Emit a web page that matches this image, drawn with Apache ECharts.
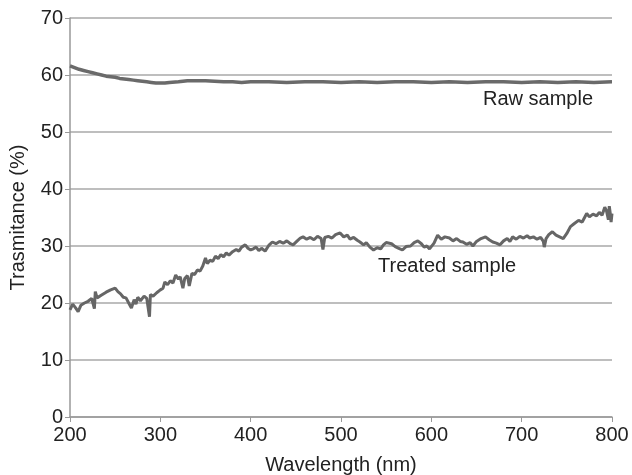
<!DOCTYPE html>
<html>
<head>
<meta charset="utf-8">
<script src="https://cdn.jsdelivr.net/npm/echarts@6/dist/echarts.min.js"></script>
<style>
  html, body { margin: 0; padding: 0; background: #fff; }
  #chart { width: 632px; height: 475px; }
</style>
</head>
<body>
<div id="chart"></div>
<script>
// raw sample: wavelength (nm) / transmittance (%)
var rawWl = [200,205,210,215,220,225,230,235,240,245,250,255,260,265,270,275,280,285,290,295,300,305,310,320,330,340,350,360,370,380,390,400,420,440,460,480,500,520,540,560,580,600,620,640,660,680,700,720,740,760,780,800];
var rawT  = [61.6,61.3,61.0,60.8,60.6,60.4,60.2,60.0,59.8,59.7,59.6,59.4,59.3,59.2,59.1,59.0,58.9,58.8,58.7,58.6,58.6,58.6,58.7,58.8,59.0,59.0,59.0,58.9,58.8,58.8,58.7,58.8,58.8,58.7,58.8,58.8,58.7,58.8,58.7,58.8,58.8,58.7,58.8,58.7,58.8,58.8,58.7,58.8,58.7,58.8,58.7,58.8];

// treated sample
var trWl = [200,203,206,209,212,216,220,224,227,228,230,235,240,245,250,253,256,259,262,265,268,271,273,275,278,282,285,288,289,292,296,300,303,305,308,311,314,317,320,322,325,327,330,332,335,338,341,344,347,350,352,355,358,361,364,367,370,373,376,380,384,387,390,394,397,400,403,406,409,412,416,420,424,428,432,436,440,444,447,451,455,458,462,466,470,474,478,480,482,486,490,494,499,503,507,510,514,518,521,525,528,532,536,540,544,547,550,552,556,560,564,568,572,577,581,585,589,592,595,598,600,603,607,611,615,620,624,628,632,635,639,643,646,650,655,660,664,668,672,676,680,684,687,690,694,698,702,706,709,713,717,721,724,725,727,730,734,738,742,746,750,754,758,763,767,772,775,779,783,786,789,792,794,796,797,798,799,800];
var trT  = [18.8,19.8,19.2,18.5,19.6,20.0,20.3,20.8,19.0,22.0,20.9,21.4,21.9,22.3,22.6,22.0,21.6,21.0,20.9,20.0,19.1,20.6,19.8,21.0,20.4,21.2,20.8,17.6,21.5,21.2,21.8,22.3,22.6,23.7,23.2,23.9,23.5,24.9,24.2,24.6,22.6,24.3,24.8,23.0,25.2,25.0,25.8,25.6,26.5,27.9,26.9,27.5,27.3,28.2,27.8,28.5,28.1,28.8,28.4,29.0,29.4,29.1,29.8,30.2,29.6,29.3,29.5,29.8,29.2,29.6,29.1,30.1,30.7,30.4,30.8,30.5,30.9,30.4,30.2,30.8,31.4,31.6,31.2,31.5,31.1,31.7,31.3,29.4,31.5,31.7,31.4,32.0,32.3,31.6,31.9,31.2,31.5,31.0,30.7,30.2,30.6,29.8,29.3,29.7,29.5,30.2,30.6,30.9,30.4,29.9,29.6,29.3,29.9,30.0,30.6,30.9,30.4,29.8,30.0,29.5,29.3,30.5,31.9,31.2,31.6,31.4,30.9,31.3,30.8,30.7,30.3,30.6,30.0,30.8,31.3,31.6,31.1,30.7,30.5,30.2,30.9,31.3,30.8,31.6,31.2,31.7,31.4,31.8,31.4,31.6,31.2,31.5,30.8,29.8,31.3,32.0,32.5,31.9,31.6,31.3,32.2,33.4,33.9,34.5,34.2,35.7,35.1,35.6,35.3,35.9,35.4,36.8,36.1,34.6,37.0,35.8,34.2,35.7];

var xTicks = [200,300,400,500,600,700,800];
var yTicks = [0,10,20,30,40,50,60,70];

function pairs(xs, ys){
  var out = [];
  for (var i = 0; i < xs.length; i++) out.push([xs[i], ys[i]]);
  return out;
}

var chart = echarts.init(document.getElementById('chart'));
var font = 'Liberation Sans, Arial, sans-serif';
chart.setOption({
  animation: false,
  grid: { left: 70, right: 20, top: 18, bottom: 58, outerBoundsMode: 'none' },
  xAxis: {
    type: 'value',
    min: xTicks[0], max: xTicks[xTicks.length - 1], interval: 100,
    name: 'Wavelength (nm)', nameLocation: 'middle', nameGap: 38,
    nameTextStyle: { color: '#222', fontSize: 20, fontFamily: font },
    axisLine: { show: true, lineStyle: { color: '#999', width: 1.5 } },
    axisTick: { show: true, length: 5, lineStyle: { color: '#999' } },
    axisLabel: { color: '#222', fontSize: 20, fontFamily: font, margin: 8 },
    splitLine: { show: false }
  },
  yAxis: {
    type: 'value',
    min: yTicks[0], max: yTicks[yTicks.length - 1], interval: 10,
    name: 'Trasmitance (%)', nameLocation: 'middle', nameGap: 42,
    nameTextStyle: { color: '#222', fontSize: 20, fontFamily: font },
    axisLine: { show: true, lineStyle: { color: '#999', width: 1.5 } },
    axisTick: { show: true, length: 5, lineStyle: { color: '#999' } },
    axisLabel: { color: '#222', fontSize: 20, fontFamily: font, margin: 7 },
    splitLine: { show: true, lineStyle: { color: '#a8a8a8', width: 1.5 } }
  },
  series: [
    {
      name: 'Raw sample', type: 'line', showSymbol: false,
      data: pairs(rawWl, rawT),
      lineStyle: { color: '#6a6a6a', width: 3.5 }
    },
    {
      name: 'Treated sample', type: 'line', showSymbol: false,
      data: pairs(trWl, trT),
      lineStyle: { color: '#666', width: 3 }
    }
  ],
  graphic: [
    { type: 'text', left: 483, top: 89, style: { text: 'Raw sample', fill: '#222', font: '20px ' + font } },
    { type: 'text', left: 378, top: 256, style: { text: 'Treated sample', fill: '#222', font: '20px ' + font } }
  ]
});
</script>
</body>
</html>
